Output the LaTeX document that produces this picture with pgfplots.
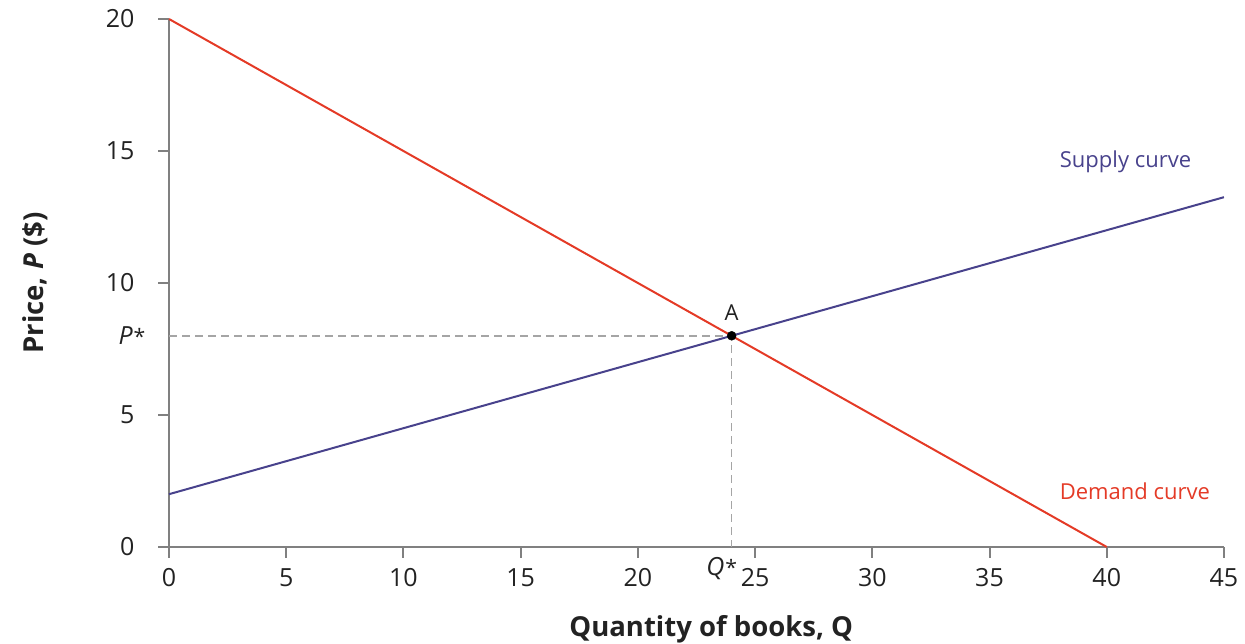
\documentclass[border=0pt]{standalone}
\usepackage{fontspec}
\setmainfont{Open Sans}
\usepackage{pgfplots}
\pgfplotsset{compat=1.18}
\definecolor{demand}{RGB}{228,58,38}
\definecolor{supply}{RGB}{72,66,140}
\definecolor{axisgray}{RGB}{128,128,128}
\definecolor{dashgray}{RGB}{165,165,165}
\definecolor{txt}{RGB}{34,34,34}
\begin{document}
\begin{tikzpicture}[x=1pt,y=1pt]
\useasboundingbox (0,0) rectangle (1245,644);
\begin{axis}[
  at={(169pt,97pt)}, anchor=south west,
  scale only axis, width=1055pt, height=528pt,
  xmin=0, xmax=45, ymin=0, ymax=20,
  axis lines=left,
  axis line style={-, draw=axisgray, line width=2pt},
  xtick={0,5,...,45}, ytick={0,5,...,20},
  tick align=outside, major tick length=11pt,
  every tick/.style={draw=axisgray, line width=2pt},
  tick label style={font=\fontsize{25}{30}\selectfont, text=txt},
  /pgf/number format/assume math mode=true,
  xticklabel style={yshift=-7pt},
  yticklabel style={xshift=-20pt},
  extra x ticks={24}, extra x tick labels={\textit{Q}\kern1pt\scalebox{0.85}{*}},
  extra y ticks={8}, extra y tick labels={\textit{P}\kern1pt\scalebox{0.85}{*}},
  extra tick style={major tick length=0pt, every tick/.style={draw=none}},
  extra x tick style={xticklabel style={xshift=-10pt}},
  xlabel={\textbf{Quantity of books, Q}},
  xlabel style={at={(axis description cs:0.514,0)}, anchor=base, yshift=-90pt, font=\fontsize{27.5}{32}\selectfont, text=txt},
  ylabel={\textbf{Price, \textit{P} (\$)}},
  ylabel style={at={(axis description cs:0,0.5)}, anchor=center, yshift=134pt, font=\fontsize{27.5}{32}\selectfont, text=txt},
  clip=false,
]
\addplot[dashgray, line width=1.6pt, dash pattern=on 8pt off 5pt] coordinates {(0,8) (24,8) (24,0)};
\addplot[demand, line width=2pt] coordinates {(0,20) (40,0)};
\addplot[supply, line width=2pt] coordinates {(0,2) (45,13.25)};
\addplot[only marks, mark=*, mark size=4.5pt, black] coordinates {(24,8)};
\node[text=supply, font=\fontsize{22}{26}\selectfont] at (axis cs:40.8,14.6) {Supply curve};
\node[text=demand, font=\fontsize{22}{26}\selectfont] at (axis cs:41.2,2.12) {Demand curve};
\node[text=txt, font=\fontsize{22}{26}\selectfont] at (axis cs:24,8.86) {A};
\end{axis}
\end{tikzpicture}
\end{document}
